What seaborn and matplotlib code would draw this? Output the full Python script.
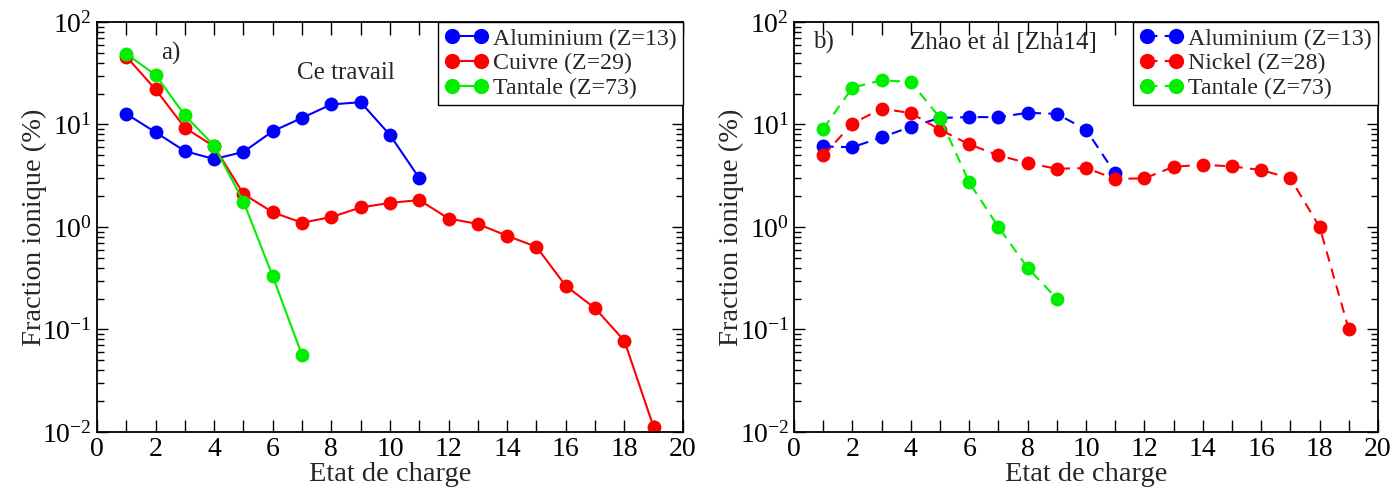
import numpy as np
import pandas as pd
import matplotlib
matplotlib.use("Agg")
import matplotlib.pyplot as plt
from matplotlib.ticker import LogLocator, MultipleLocator, NullFormatter
import seaborn as sns

sns.set_theme(style="ticks")
plt.rcParams['font.family'] = ['Liberation Serif', 'DejaVu Serif']
plt.rcParams['mathtext.fontset'] = 'custom'
plt.rcParams['mathtext.rm'] = 'Liberation Serif'

# panneau a) : ce travail
etat_al_a = [1, 2, 3, 4, 5, 6, 7, 8, 9, 10, 11]
al_a = [12.7, 8.4, 5.5, 4.6, 5.4, 8.6, 11.6, 15.7, 16.5, 7.9, 3.0]
etat_cu = list(range(1, 20))
cu = [46, 22, 9.3, 6.1, 2.1, 1.39, 1.1, 1.25, 1.55, 1.72, 1.83,
      1.21, 1.07, 0.82, 0.64, 0.266, 0.161, 0.0775, 0.0111]
etat_ta_a = [1, 2, 3, 4, 5, 6, 7]
ta_a = [49, 30.4, 12.3, 6.2, 1.77, 0.33, 0.056]

# panneau b) : Zhao et al
etat_al_b = [1, 2, 3, 4, 5, 6, 7, 8, 9, 10, 11]
al_b = [6.1, 6.0, 7.5, 9.5, 11.6, 11.8, 11.8, 13.0, 12.7, 8.9, 3.33]
etat_ni = list(range(1, 20))
ni = [5.0, 10.2, 14.3, 12.9, 8.9, 6.4, 5.0, 4.2, 3.7, 3.76, 2.95,
      2.98, 3.87, 4.05, 3.9, 3.6, 2.98, 1.0, 0.1]
etat_ta_b = [1, 2, 3, 4, 5, 6, 7, 8, 9]
ta_b = [9.1, 22.9, 27, 26, 11.6, 2.72, 1.0, 0.4, 0.2]

panels = [
    [(etat_al_a, al_a, "Aluminium (Z=13)", "#0000ff"),
     (etat_cu, cu, "Cuivre (Z=29)", "#ff0000"),
     (etat_ta_a, ta_a, "Tantale (Z=73)", "#00ee00")],
    [(etat_al_b, al_b, "Aluminium (Z=13)", "#0000ff"),
     (etat_ni, ni, "Nickel (Z=28)", "#ff0000"),
     (etat_ta_b, ta_b, "Tantale (Z=73)", "#00ee00")],
]

fig = plt.figure(figsize=(13.97, 4.91), dpi=100)
ax1 = fig.add_axes([0.0694, 0.1202, 0.4195, 0.8350])
ax2 = fig.add_axes([0.5684, 0.1202, 0.4180, 0.8350])

for ax, series, ls in [(ax1, panels[0], '-'), (ax2, panels[1], (0, (5, 3.5)))]:
    for x, y, lab, col in series:
        df = pd.DataFrame({"etat": x, "frac": y})
        sns.lineplot(data=df, x="etat", y="frac", ax=ax, color=col, label=lab,
                     marker='o', markersize=10, markeredgewidth=0,
                     linewidth=1.5, linestyle=ls)
    ax.set_yscale('log')
    ax.set_xlim(0, 20)
    ax.set_ylim(1e-2, 1e2)
    ax.xaxis.set_major_locator(MultipleLocator(2))
    ax.xaxis.set_minor_locator(MultipleLocator(1))
    ax.yaxis.set_major_locator(LogLocator(base=10, numticks=10))
    ax.yaxis.set_minor_locator(LogLocator(base=10, subs=np.arange(2, 10), numticks=20))
    ax.yaxis.set_minor_formatter(NullFormatter())
    ax.tick_params(which='both', direction='in', top=True, right=True,
                   labelsize=20, width=1, colors='black')
    ax.tick_params(axis='x', which='both', length=9)
    ax.tick_params(axis='y', which='major', length=8)
    ax.tick_params(axis='y', which='minor', length=5)
    for sp in ax.spines.values():
        sp.set_linewidth(1.3)
        sp.set_color('black')
    ax.set_xlabel("Etat de charge", fontsize=20.5, labelpad=0)
    ax.set_ylabel("Fraction ionique (%)", fontsize=20.5, labelpad=-3)
    leg = ax.legend(loc='upper right', numpoints=2, handlelength=1.85,
                    handletextpad=0.2, borderaxespad=0, borderpad=0.25,
                    labelspacing=0.12, fontsize=17.2, fancybox=False,
                    markerscale=1.1, framealpha=1, edgecolor='black')
    leg.get_frame().set_linewidth(1)

ax1.text(0.110, 0.924, "a)", transform=ax1.transAxes, fontsize=18, va='center')
ax1.text(0.341, 0.876, "Ce travail", transform=ax1.transAxes, fontsize=18, va='center')
ax2.text(0.032, 0.949, "b)", transform=ax2.transAxes, fontsize=18, va='center')
ax2.text(0.199, 0.949, "Zhao et al [Zha14]", transform=ax2.transAxes, fontsize=18, va='center')

fig.savefig("out.png", dpi=100)
